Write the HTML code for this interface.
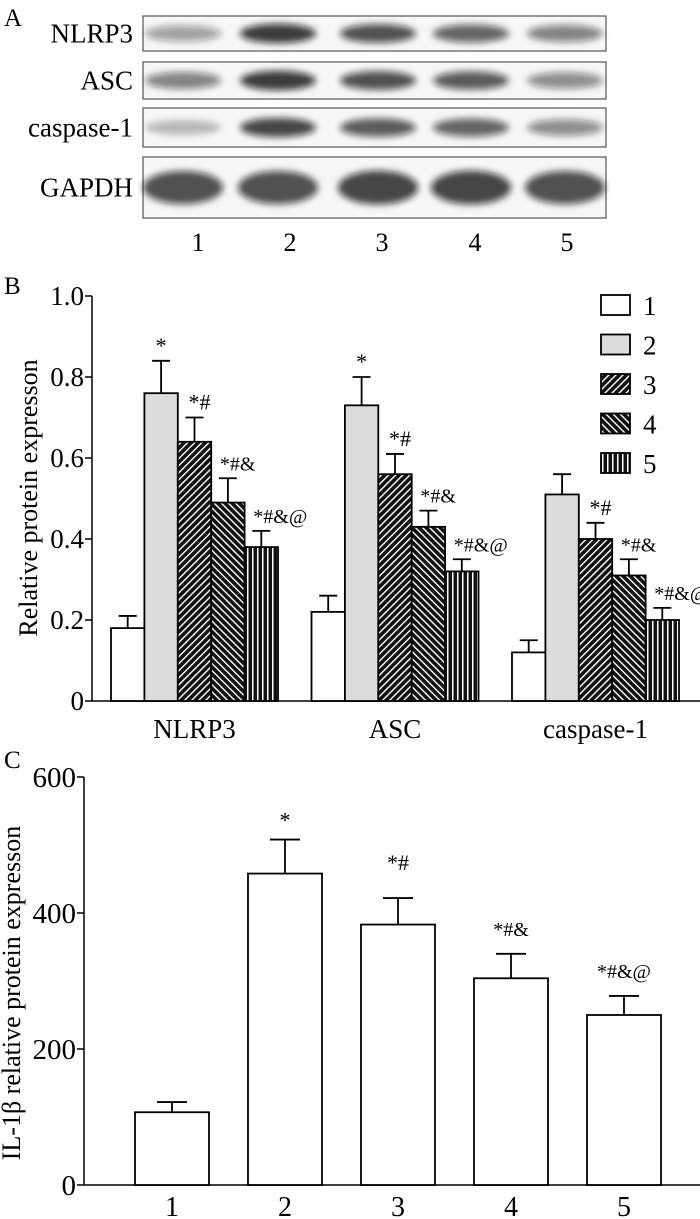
<!DOCTYPE html>
<html><head><meta charset="utf-8"><style>
html,body{margin:0;padding:0;background:#fff}
svg{display:block;font-family:"Liberation Serif",serif}
</style></head><body>
<svg id="fig" width="700" height="1219" viewBox="0 0 700 1219">
<defs>
<filter id="blur" x="-30%" y="-80%" width="160%" height="260%"><feGaussianBlur stdDeviation="3.5"/></filter>
<pattern id="p3" width="5" height="5" patternUnits="userSpaceOnUse" patternTransform="rotate(45)"><rect width="5" height="5" fill="#111"/><rect x="0" width="1.4" height="5" fill="#fff"/></pattern>
<pattern id="p4" width="5" height="5" patternUnits="userSpaceOnUse" patternTransform="rotate(-45)"><rect width="5" height="5" fill="#111"/><rect x="0" width="1.4" height="5" fill="#fff"/></pattern>
<pattern id="p5" width="5" height="5" patternUnits="userSpaceOnUse"><rect width="5" height="5" fill="#111"/><rect x="2" width="1.5" height="5" fill="#fff"/></pattern>
</defs>
<g id="panelA"></g>
<g id="panelB"></g>
<g id="panelC"></g>
</svg>
<script>
// ---- data ----
const blotRows = ["NLRP3","ASC","caspase-1","GAPDH"];
const laneLabels = ["1","2","3","4","5"];
const blotIntensity = [[0.45,0.95,0.85,0.75,0.6],[0.6,0.95,0.85,0.8,0.55],[0.3,0.9,0.8,0.75,0.55],[0.85,0.85,0.9,0.9,0.85]];
const bCategories = ["NLRP3","ASC","caspase-1"];
const bSeriesNames = ["1","2","3","4","5"];
const bValues = [[0.18,0.76,0.64,0.49,0.38],[0.22,0.73,0.56,0.43,0.32],[0.12,0.51,0.40,0.31,0.20]];
const bErrors = [[0.21,0.84,0.70,0.55,0.42],[0.26,0.80,0.61,0.47,0.35],[0.15,0.56,0.44,0.35,0.23]];
const bMarks = [["","*","*#","*#&","*#&@"],["","*","*#","*#&","*#&@"],["","","*#","*#&","*#&@"]];
const bTicks = [0,0.2,0.4,0.6,0.8,1.0];
const bTickLabels = ["0","0.2","0.4","0.6","0.8","1.0"];
const cCategories = ["1","2","3","4","5"];
const cValues = [107,458,383,304,250];
const cErrors = [122,508,422,340,278];
const cMarks = ["","*","*#","*#&","*#&@"];
const cTicks = [0,200,400,600];

const NS="http://www.w3.org/2000/svg";
function mk(parent,tag,attrs,text){const e=document.createElementNS(NS,tag);for(const k in attrs)e.setAttribute(k,attrs[k]);if(text!==undefined)e.textContent=text;parent.appendChild(e);return e;}

// ---- Panel A ----
const A=document.getElementById('panelA');
let t=mk(A,'text',{x:4,y:26,'font-size':25},'A');


const boxes=[[16,35],[62,37],[108,39],[157,61]];
const laneX=[183,278,378,471,565];
blotRows.forEach((r,i)=>{
  const [y,h]=boxes[i];
  const g=mk(A,'g',{});
  
  
  mk(g,'rect',{x:143,y:y,width:463,height:h,fill:'#f7f7f7',stroke:'#555','stroke-width':1.2});
  blotIntensity[i].forEach((v,j)=>{
    const bh=(i==3?16:9)*(0.7+0.4*v);
    const e=mk(g,'ellipse',{cx:laneX[j],cy:y+h/2,rx:(i==3?40:38),ry:bh,fill:'#111','fill-opacity':v*0.85,filter:'url(#blur)'});
    
    
  });
  const l=mk(A,'text',{x:133,y:y+h/2+9,'font-size':27,'text-anchor':'end'},r);
  
  
});
laneLabels.forEach((s,j)=>{
  const l=mk(A,'text',{x:[198,290,382,475,567][j],y:251,'font-size':26,'text-anchor':'middle'},s);
  
  
});

// ---- Panel B ----
const B=document.getElementById('panelB');
const bx0=92,by0=701,byS=405;
const yB=v=>by0-v*byS;
t=mk(B,'text',{x:4,y:294,'font-size':25},'B');


mk(B,'line',{x1:bx0,y1:yB(1.0),x2:bx0,y2:by0,stroke:'#000','stroke-width':1.5});
mk(B,'line',{x1:bx0,y1:by0,x2:700,y2:by0,stroke:'#000','stroke-width':1.5});
bTicks.forEach((v,i)=>{
  mk(B,'line',{x1:bx0-7,y1:yB(v),x2:bx0,y2:yB(v),stroke:'#000','stroke-width':1.5});
  const l=mk(B,'text',{x:bx0-8,y:yB(v)+9,'font-size':27,'text-anchor':'end'},bTickLabels[i]);
  
  
});
t=mk(B,'text',{transform:'translate(37,498) rotate(-90)','font-size':26,'text-anchor':'middle'},'Relative protein expresson');


const fills=['#fff','#dcdcdc','url(#p3)','url(#p4)','url(#p5)'];
const bw=33.4, groupStart=111, groupStep=200.5;
bCategories.forEach((c,gi)=>{
  const gx=groupStart+gi*groupStep;
  bValues[gi].forEach((v,si)=>{
    const x=gx+si*bw, cx=x+bw/2;
    const er=mk(B,'path',{d:`M${cx},${yB(v)}V${yB(bErrors[gi][si])}M${cx-9},${yB(bErrors[gi][si])}H${cx+9}`,stroke:'#000','stroke-width':1.8,fill:'none'});
    
    
    const r=mk(B,'rect',{x:x,y:yB(v),width:bw,height:by0-yB(v),fill:fills[si],stroke:'#000','stroke-width':1.8});
    
    
    if(bMarks[gi][si]){
      const m=mk(B,'text',{x:cx-(si>2?8:6),y:yB(bErrors[gi][si])-8,'font-size':si>2?20:22,'text-anchor':'start'},bMarks[gi][si]);
      if(si==1){m.setAttribute('text-anchor','middle');m.setAttribute('x',cx);}
      
      
    }
  });
  const l=mk(B,'text',{x:gx+2.5*bw,y:738,'font-size':27,'text-anchor':'middle'},c);
  
  
});
bSeriesNames.forEach((s,i)=>{
  const y=305+i*39.5;
  const g=mk(B,'g',{});
  
  
  mk(g,'rect',{x:601,y:y-10,width:29,height:20,fill:fills[i],stroke:'#000','stroke-width':1.8});
  mk(g,'text',{x:643,y:y+10,'font-size':27},s);
});

// ---- Panel C ----
const C=document.getElementById('panelC');
const cx0=84,cy0=1185,cyS=408/600;
const yC=v=>cy0-v*cyS;
t=mk(C,'text',{x:4,y:768,'font-size':25},'C');


mk(C,'line',{x1:cx0,y1:yC(600),x2:cx0,y2:cy0,stroke:'#000','stroke-width':1.5});
mk(C,'line',{x1:cx0,y1:cy0,x2:700,y2:cy0,stroke:'#000','stroke-width':1.5});
cTicks.forEach(v=>{
  mk(C,'line',{x1:cx0-7,y1:yC(v),x2:cx0,y2:yC(v),stroke:'#000','stroke-width':1.5});
  const l=mk(C,'text',{x:cx0-8,y:yC(v)+10,'font-size':29,'text-anchor':'end'},String(v));
  
  
});
t=mk(C,'text',{transform:'translate(20,993) rotate(-90)','font-size':26,'text-anchor':'middle'},'IL-1β relative protein expresson');


const cw=74, cStart=135, cStep=113;
cCategories.forEach((c,i)=>{
  const x=cStart+i*cStep, mx=x+cw/2;
  const er=mk(C,'path',{d:`M${mx},${yC(cValues[i])}V${yC(cErrors[i])}M${mx-15},${yC(cErrors[i])}H${mx+15}`,stroke:'#000','stroke-width':1.8,fill:'none'});
  
  
  const r=mk(C,'rect',{x:x,y:yC(cValues[i]),width:cw,height:cy0-yC(cValues[i]),fill:'#fff',stroke:'#000','stroke-width':1.8});
  
  
  if(cMarks[i]){
    const m=mk(C,'text',{x:mx,y:yC(cErrors[i])-(i==1?12:i==2?28:18),'font-size':i>2?20:22,'text-anchor':'middle'},cMarks[i]);
    
    
  }
  const l=mk(C,'text',{x:mx,y:1216,'font-size':28,'text-anchor':'middle'},c);
  
  
});
</script>
</body></html>
